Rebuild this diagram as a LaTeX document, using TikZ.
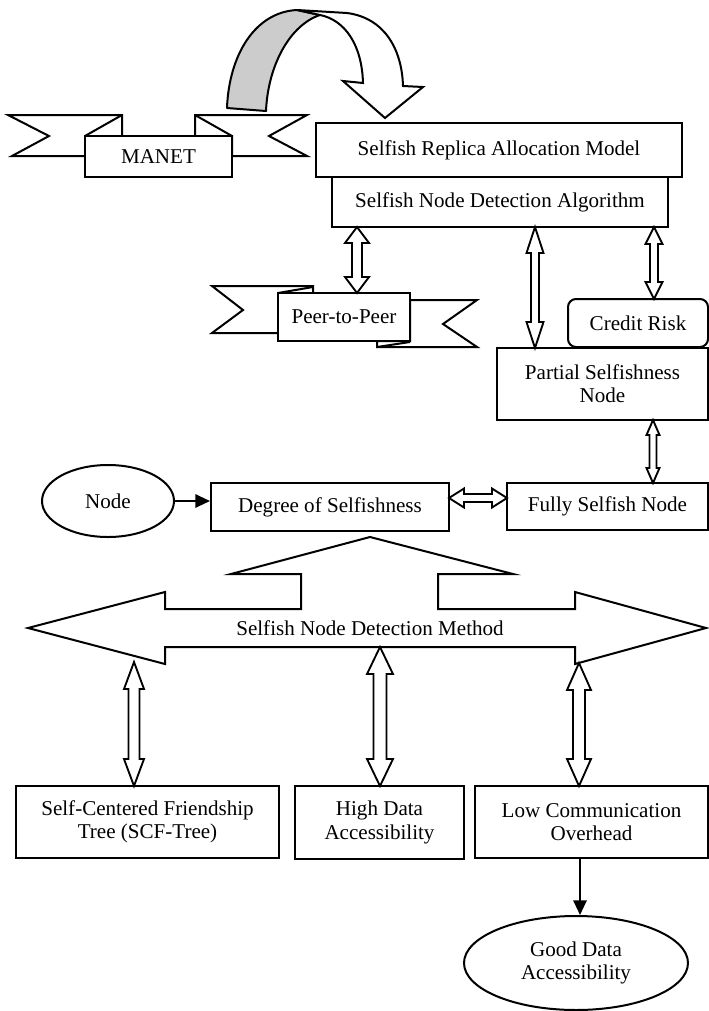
\documentclass[tikz,border=0pt]{standalone}
\usepackage{fontspec}
\setmainfont{Liberation Serif}
\usetikzlibrary{arrows.meta,shapes.geometric}
% vertical hollow double arrow: top, bottom, head half-width, head length, shaft half-width
\newcommand{\dblv}[5]{%
  \draw[darrow] (#1) -- ([shift={(-#3,#4)}]#1) -- ([shift={(-#5,#4)}]#1) -- ([shift={(-#5,-#4)}]#2) -- ([shift={(-#3,-#4)}]#2) -- (#2) -- ([shift={(#3,-#4)}]#2) -- ([shift={(#5,-#4)}]#2) -- ([shift={(#5,#4)}]#1) -- ([shift={(#3,#4)}]#1) -- cycle;}
% horizontal hollow double arrow: left, right, head half-height, head length, shaft half-height
\newcommand{\dblh}[5]{%
  \draw[darrow] (#1) -- ([shift={(#4,-#3)}]#1) -- ([shift={(#4,-#5)}]#1) -- ([shift={(-#4,-#5)}]#2) -- ([shift={(-#4,-#3)}]#2) -- (#2) -- ([shift={(-#4,#3)}]#2) -- ([shift={(-#4,#5)}]#2) -- ([shift={(#4,#5)}]#1) -- ([shift={(#4,#3)}]#1) -- cycle;}
\tikzset{
  txt/.style={font=\fontsize{15.8}{17.5}\selectfont, align=center},
  sz/.style 2 args={minimum width=#1*0.75pt, minimum height=#2*0.75pt},
  box/.style={txt, draw, line width=1.5pt, fill=white, inner sep=0pt, rectangle},
  oval/.style={txt, draw, line width=1.5pt, fill=white, inner sep=0pt, ellipse},
  ribbon/.style={draw, line width=1.5pt, fill=white, line join=miter},
  darrow/.style={draw, line width=1.4pt, fill=white, line join=miter},
  solidarrow/.style={draw, line width=1.5pt, -{Triangle[length=11pt,width=10pt]}},
}
\begin{document}
\begin{tikzpicture}[x=0.75pt,y=-0.75pt]
\useasboundingbox (0,0) rectangle (709,1011);

% ---- curved arrow ----
\draw[line width=1.5pt, fill=gray!40, line join=round]
  (227,108) .. controls (229,55) and (255,12) .. (297,10) -- (320,15)
  .. controls (290,25) and (268,65) .. (266,111) -- cycle;
\draw[line width=1.5pt, fill=white, line join=miter]
  (297,10) -- (347,13) .. controls (385,18) and (402,50) .. (403,86)
  -- (423,87) -- (385,118) -- (343,81) -- (363,83)
  .. controls (362,45) and (345,20) .. (320,15) -- cycle;

% ---- MANET ribbon ----
\draw[ribbon] (122,115) -- (8,115) -- (49,136) -- (12,156) -- (85,156) -- (85,136) -- (122,136) -- cycle;
\draw[ribbon] (85,136) -- (122,115);
\draw[ribbon] (195,115) -- (307,115) -- (269,136) -- (307,156) -- (232,156) -- (232,136) -- (195,136) -- cycle;
\draw[ribbon] (195,115) -- (232,136);
\node[box, sz={147}{41}] (manet) at (158.5,156.5) {MANET};

% ---- top boxes ----
\node[box, sz={336}{50}] (snda) at (500,202) {Selfish Node Detection Algorithm};
\node[box, sz={366}{54}] (srm) at (499,150) {Selfish Replica Allocation Model};

% ---- Peer-to-Peer ribbon ----
\draw[ribbon] (313,286) -- (212,286) -- (243,310) -- (212,333) -- (278,333) -- (278,293) -- (313,293) -- cycle;
\draw[ribbon] (278,293) -- (313,287);
\draw[ribbon] (410,300) -- (477,300) -- (443,324) -- (477,347) -- (377,347) -- (377,341) -- (410,341) -- cycle;
\draw[ribbon] (377,347) -- (410,342);
\node[box, sz={132}{48}] (p2p) at (344,317) {Peer-to-Peer};

% ---- right column ----
\node[box, sz={140}{48}, rounded corners=6pt] (credit) at (638,323) {Credit Risk};
\node[box, sz={211}{72}] (partial) at (602.5,384) {Partial Selfishness\\Node};
\node[box, sz={201}{47}] (fsn) at (607.5,506.5) {Fully Selfish Node};
\node[box, sz={238}{48}] (dos) at (330,507) {Degree of Selfishness};
\node[oval, sz={132}{72}] (nodeE) at (108,501) {Node};

% ---- big three-way arrow ----
\draw[line width=1.5pt, fill=white, line join=miter]
  (370,537) -- (513,574) -- (438,574) -- (438,609) -- (575,609) -- (575,592)
  -- (706,628) -- (575,664) -- (575,647) -- (165,647) -- (165,664) -- (28,628)
  -- (165,592) -- (165,609) -- (301,609) -- (301,574) -- (231,574) -- cycle;
\node[txt] (sndm) at (370,628) {Selfish Node Detection Method};

% ---- bottom boxes ----
\node[box, sz={263}{72}] (scf) at (147.5,822) {Self-Centered Friendship\\Tree (SCF-Tree)};
\node[box, sz={169}{73}] (hda) at (379.5,822.5) {High Data\\Accessibility};
\node[box, sz={233}{72}] (lco) at (591.5,822) {Low Communication\\Overhead};
\node[oval, sz={224}{94}] (good) at (576,963) {Good Data\\Accessibility};

% ---- connector end points ----
\coordinate (a1t) at (357,227); \coordinate (a1b) at (357,293);
\coordinate (a2t) at (535,227); \coordinate (a2b) at (535,348);
\coordinate (a3t) at (654,227); \coordinate (a3b) at (654,299);
\coordinate (a4t) at (653,420); \coordinate (a4b) at (653,483);
\coordinate (a5l) at (449,498); \coordinate (a5r) at (507,498);
\coordinate (a6t) at (134,662); \coordinate (a6b) at (134,786);
\coordinate (a7t) at (380,647); \coordinate (a7b) at (380,786);
\coordinate (a8t) at (579,663); \coordinate (a8b) at (579,786);

\dblv{a1t}{a1b}{12}{16}{5}
\dblv{a2t}{a2b}{8.5}{26}{4}
\dblv{a3t}{a3b}{8.5}{17}{4}
\dblv{a4t}{a4b}{6.5}{15}{3.5}
\dblh{a5l}{a5r}{9.5}{15}{4}
\dblv{a6t}{a6b}{10}{27}{5.5}
\dblv{a7t}{a7b}{13}{27}{6.5}
\dblv{a8t}{a8b}{12}{27}{6}

% ---- solid arrows ----
\draw[solidarrow] (nodeE.east) -- (dos.west |- nodeE.east);
\draw[solidarrow] (lco.south -| 580,0) -- (good.north -| 580,0);
\end{tikzpicture}
\end{document}
